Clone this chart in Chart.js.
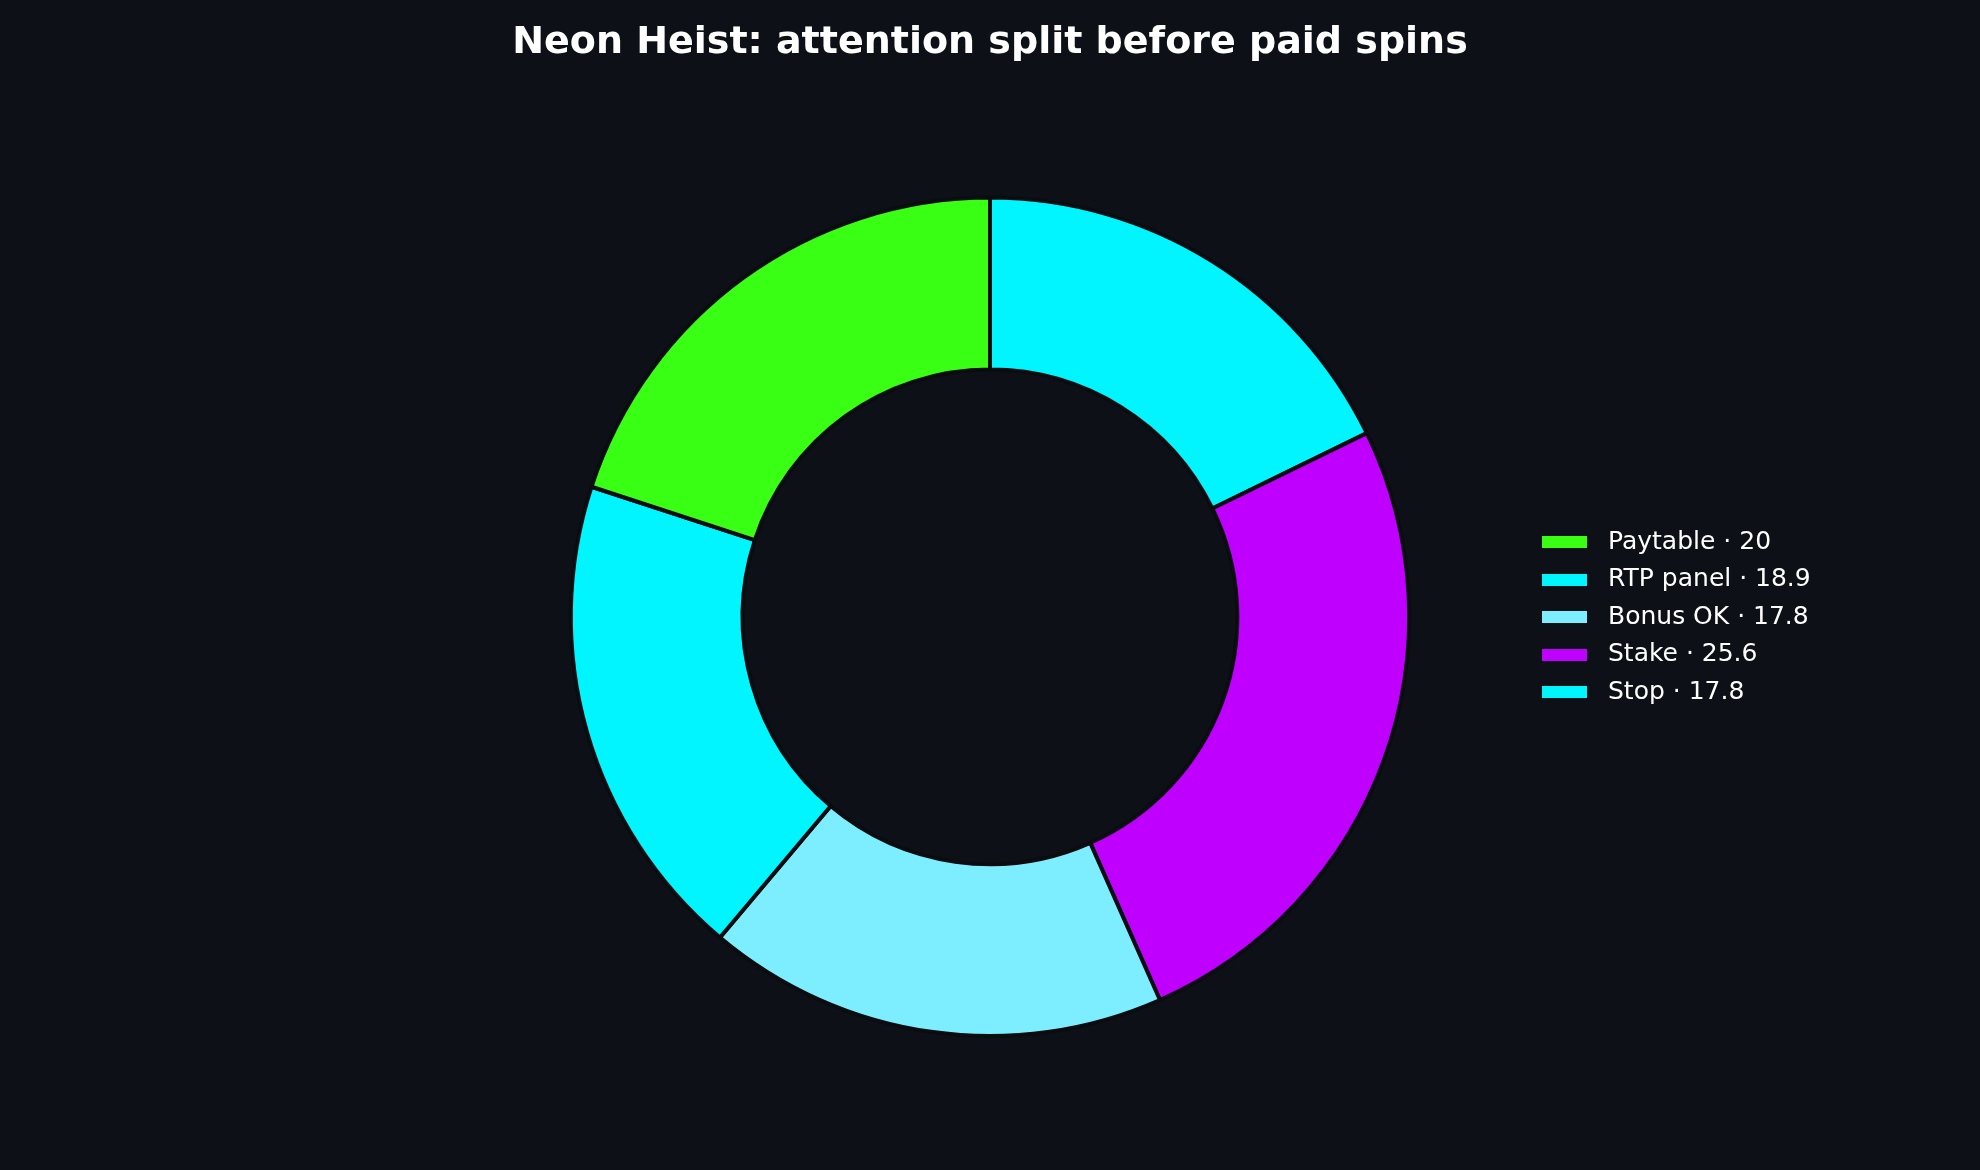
<!DOCTYPE html>
<html>
<head>
<meta charset="utf-8">
<script src="https://cdn.jsdelivr.net/npm/chart.js@4"></script>
<style>
  html, body { margin: 0; padding: 0; background: #0d1117; }
  #wrap { width: 1980px; height: 1170px; }
</style>
</head>
<body>
<div id="wrap"><canvas id="donut-chart"></canvas></div>
<script>
const categories = ["Paytable", "RTP panel", "Bonus OK", "Stake", "Stop"];
const shares = [20, 18.9, 17.8, 25.6, 17.8];
const sliceColors = ["#39ff14", "#00f5ff", "#7deeff", "#bf00ff", "#00f5ff"];

// matplotlib draws counter-clockwise from the top, chart.js goes clockwise,
// so feed the slices in reverse and flip the legend back
const revLabels = categories.map((c, i) => c + " \u00b7 " + shares[i]).reverse();
const revData = shares.slice().reverse();
const revColors = sliceColors.slice().reverse();

const donut = document.getElementById("donut-chart");
const defaultLabels = Chart.overrides.doughnut.plugins.legend.labels.generateLabels;

// small flat swatch for the legend, so the gap to the text can be wider
function swatch(color) {
  const c = document.createElement("canvas");
  c.width = 45;
  c.height = 12;
  const ctx = c.getContext("2d");
  ctx.fillStyle = color;
  ctx.fillRect(0, 0, 45, 12);
  return c;
}

const attentionChart = new Chart(donut, {
  type: "doughnut",
  data: {
    labels: revLabels,
    datasets: [
      {
        label: "Attention share",
        data: revData,
        backgroundColor: revColors,
        borderColor: "#0a0c10",
        borderWidth: 4,
      },
    ],
  },
  options: {
    responsive: true,
    maintainAspectRatio: false,
    animation: false,
    cutout: "59%",
    layout: {
      padding: { left: 0, right: 0, top: 0, bottom: 132 },
    },
    plugins: {
      title: {
        display: true,
        text: "Neon Heist: attention split before paid spins",
        color: "#ffffff",
        font: { family: "DejaVu Sans", size: 38, weight: "bold" },
        padding: { top: 20, bottom: 130 },
      },
      legend: {
        display: true,
        position: "chartArea",
        labels: {
          color: "#ffffff",
          font: { family: "DejaVu Sans", size: 25 },
          usePointStyle: true,
          pointStyleWidth: 63,
          boxHeight: 12,
          padding: 12.5,
          generateLabels: (chart) =>
            defaultLabels(chart).map((item) => ({
              ...item,
              lineWidth: 0,
              pointStyle: swatch(item.fillStyle),
            })),
          sort: (a, b) => b.index - a.index,
        },
      },
      tooltip: { enabled: false },
    },
  },
  plugins: [
    {
      afterUpdate(chart) {
        // the legend floats over the chart area, so the donut stays centred;
        // push it out to the right of the ring and down to its middle
        const legend = chart.legend;
        legend.left = 1520;
        legend.top += 196;
        legend.bottom += 196;
      },
    },
  ],
});
</script>
</body>
</html>
